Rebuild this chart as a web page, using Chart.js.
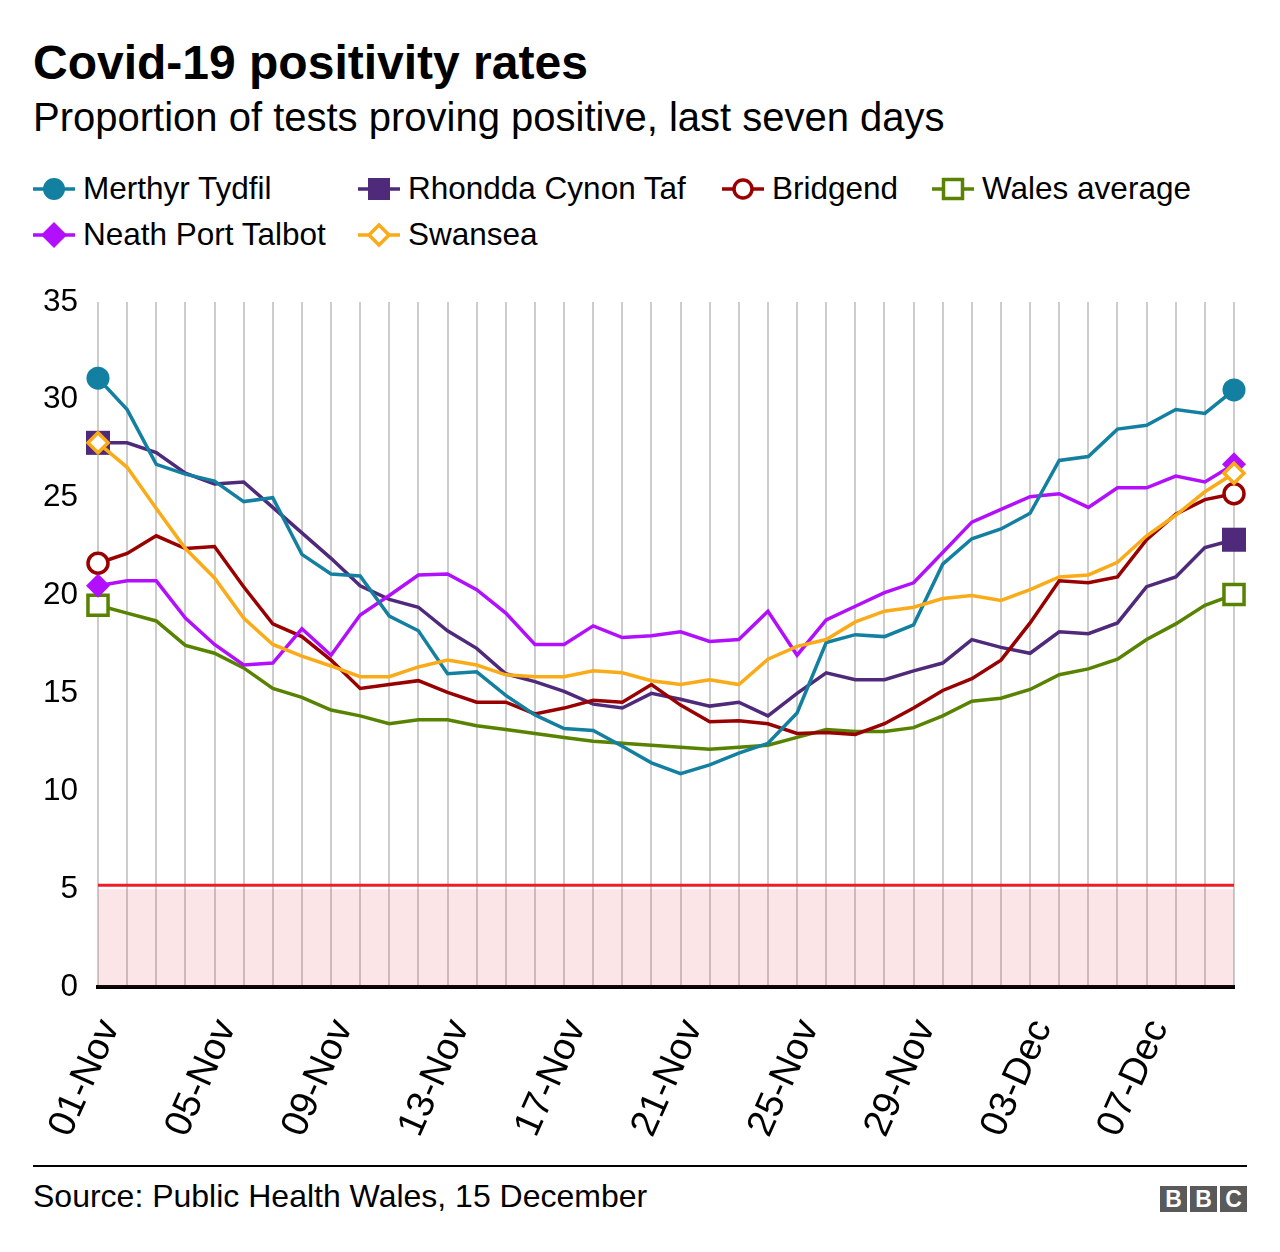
<!DOCTYPE html>
<html>
<head>
<meta charset="utf-8">
<script src="https://cdn.jsdelivr.net/npm/chart.js@4.4.1/dist/chart.umd.min.js"></script>
<style>
  html, body { margin:0; padding:0; background:#fff; }
  body { width:1280px; height:1252px; position:relative; overflow:hidden; font-family:"Liberation Sans", Arial, Helvetica, sans-serif; color:#000; }
  .abs { position:absolute; white-space:nowrap; line-height:1; }
  #title { left:33px; top:39px; font-size:48px; font-weight:bold; }
  #subtitle { left:33px; top:97px; font-size:40px; }
  .leg { position:absolute; display:flex; align-items:center; font-size:31.5px; line-height:1; white-space:nowrap; height:40px; }
  .leg svg { margin-right:8px; }
  #chartwrap { position:absolute; left:0; top:271px; width:1280px; height:889px; }
  #rule { position:absolute; left:33px; top:1165px; width:1214px; height:2px; background:#000; }
  #source { left:33px; top:1180px; font-size:32px; }
  #bbc { position:absolute; left:1160px; top:1186px; display:flex; gap:3px; }
  #bbc span { display:block; width:27px; height:26px; background:#5a5a5a; color:#fff; font-weight:bold; font-size:23px; line-height:26px; text-align:center; }
</style>
</head>
<body>
<div id="title" class="abs">Covid-19 positivity rates</div>
<div id="subtitle" class="abs">Proportion of tests proving positive, last seven days</div>
<div id="legend"></div>
<div id="chartwrap"><canvas id="c" width="1280" height="889"></canvas></div>
<div id="rule"></div>
<div id="source" class="abs">Source: Public Health Wales, 15 December</div>
<div id="bbc"><span>B</span><span>B</span><span>C</span></div>
<script>
const dates = ['01-Nov','02-Nov','03-Nov','04-Nov','05-Nov','06-Nov','07-Nov','08-Nov','09-Nov','10-Nov',
  '11-Nov','12-Nov','13-Nov','14-Nov','15-Nov','16-Nov','17-Nov','18-Nov','19-Nov','20-Nov',
  '21-Nov','22-Nov','23-Nov','24-Nov','25-Nov','26-Nov','27-Nov','28-Nov','29-Nov','30-Nov',
  '01-Dec','02-Dec','03-Dec','04-Dec','05-Dec','06-Dec','07-Dec','08-Dec','09-Dec','10-Dec'];

const merthyrTydfil = [31.1,29.5,26.7,26.2,25.85,24.8,25.0,22.1,21.1,21.0,
  18.95,18.2,16.0,16.1,14.9,13.9,13.2,13.1,12.3,11.45,
  10.9,11.35,11.95,12.45,14.0,17.6,18.0,17.9,18.5,21.6,
  22.9,23.4,24.2,26.9,27.1,28.5,28.7,29.5,29.3,30.5];

const rhonddaCynonTaf = [27.8,27.8,27.3,26.25,25.7,25.8,24.5,23.2,21.9,20.5,
  19.8,19.4,18.2,17.3,16.0,15.6,15.1,14.45,14.25,15.0,
  14.7,14.35,14.55,13.85,15.0,16.05,15.7,15.7,16.15,16.55,
  17.75,17.35,17.05,18.15,18.05,18.6,20.45,20.95,22.45,22.85];

const bridgend = [21.65,22.15,23.05,22.4,22.5,20.45,18.55,17.9,16.7,15.25,
  15.45,15.65,15.05,14.55,14.55,13.95,14.25,14.65,14.55,15.45,
  14.4,13.55,13.6,13.45,12.95,13.0,12.9,13.45,14.25,15.15,
  15.75,16.7,18.6,20.75,20.65,20.95,22.85,24.15,24.9,25.2];

const walesAverage = [19.5,19.1,18.7,17.45,17.05,16.3,15.25,14.8,14.15,13.85,
  13.45,13.65,13.65,13.35,13.15,12.95,12.75,12.55,12.45,12.35,
  12.25,12.15,12.25,12.35,12.75,13.15,13.05,13.05,13.25,13.85,
  14.6,14.75,15.2,15.95,16.25,16.75,17.75,18.55,19.5,20.05];

const neathPortTalbot = [20.5,20.75,20.75,18.85,17.5,16.45,16.55,18.3,16.95,19.0,
  20.0,21.05,21.1,20.3,19.1,17.5,17.5,18.45,17.85,17.95,
  18.15,17.65,17.75,19.2,16.95,18.75,19.45,20.15,20.65,22.2,
  23.75,24.4,25.05,25.2,24.5,25.5,25.5,26.1,25.8,26.7];

const swansea = [27.8,26.55,24.45,22.4,20.9,18.85,17.5,16.9,16.4,15.85,
  15.85,16.35,16.7,16.45,15.95,15.85,15.85,16.15,16.05,15.65,
  15.45,15.7,15.45,16.75,17.4,17.75,18.65,19.2,19.4,19.85,
  20.0,19.75,20.3,20.95,21.05,21.7,23.05,24.1,25.3,26.25];

const thresholdShade = dates.map(() => 5);
const thresholdLine = dates.map(() => 5.2);

const yTicks = [0,5,10,15,20,25,30,35];

const FONT = '"Liberation Sans", Arial, Helvetica, sans-serif';

const seriesDefs = [
  { label:'Merthyr Tydfil', data:merthyrTydfil, color:'#1380A1', style:'circle', r:11.5, filled:true, order:1 },
  { label:'Rhondda Cynon Taf', data:rhonddaCynonTaf, color:'#4F2A7A', style:'rect', r:17, filled:true, order:4 },
  { label:'Bridgend', data:bridgend, color:'#990000', style:'circle', r:10, filled:false, order:3 },
  { label:'Wales average', data:walesAverage, color:'#588300', style:'rect', r:14.2, filled:false, order:5 },
  { label:'Neath Port Talbot', data:neathPortTalbot, color:'#B30FFF', style:'rectRot', r:12, filled:true, order:2 },
  { label:'Swansea', data:swansea, color:'#FAAB18', style:'rectRot', r:10, filled:false, order:0 }
];

// HTML legend
const legendPos = [[33,169],[358,169],[722,169],[932,169],[33,215],[358,215]];
function markerSvg(d) {
  const c = d.color;
  let m;
  if (d.style === 'circle') m = d.filled ? `<circle cx="21" cy="15" r="11" fill="${c}"/>` : `<circle cx="21" cy="15" r="9" fill="#fff" stroke="${c}" stroke-width="3.5"/>`;
  else if (d.style === 'rect') m = d.filled ? `<rect x="10" y="4" width="22" height="22" fill="${c}"/>` : `<rect x="11.5" y="5.5" width="19" height="19" fill="#fff" stroke="${c}" stroke-width="3.5"/>`;
  else m = d.filled ? `<polygon points="21,2 34,15 21,28 8,15" fill="${c}"/>` : `<polygon points="21,5 31,15 21,25 11,15" fill="#fff" stroke="${c}" stroke-width="3.5"/>`;
  return `<svg width="42" height="30" viewBox="0 0 42 30"><line x1="0" y1="15" x2="42" y2="15" stroke="${c}" stroke-width="3.5"/>${m}</svg>`;
}
const legendEl = document.getElementById('legend');
seriesDefs.forEach((d, i) => {
  const div = document.createElement('div');
  div.className = 'leg';
  div.style.left = legendPos[i][0] + 'px';
  div.style.top = legendPos[i][1] + 'px';
  div.innerHTML = markerSvg(d) + '<span>' + d.label + '</span>';
  legendEl.appendChild(div);
});

const datasets = seriesDefs.map(d => ({
  label: d.label,
  data: d.data,
  borderColor: d.color,
  borderWidth: 3.5,
  pointStyle: d.style,
  pointRadius: ctx => (ctx.dataIndex === 0 || ctx.dataIndex === d.data.length - 1) ? d.r : 0,
  pointHoverRadius: 0,
  pointBackgroundColor: d.filled ? d.color : '#ffffff',
  pointBorderColor: d.color,
  pointBorderWidth: d.filled ? 0 : 3.5,
  tension: 0,
  fill: false,
  clip: false,
  order: d.order
}));
datasets.push({
  label: 'threshold line', data: thresholdLine, borderColor: '#EE1C25', borderWidth: 3,
  pointRadius: 0, pointHoverRadius: 0, fill: false, order: 10, clip: false
});
datasets.push({
  label: 'threshold area', data: thresholdShade, borderWidth: 0, borderColor: 'rgba(0,0,0,0)',
  backgroundColor: 'rgba(222,40,60,0.12)', pointRadius: 0, pointHoverRadius: 0, fill: 'origin', order: 11
});

new Chart(document.getElementById('c').getContext('2d'), {
  type: 'line',
  data: { labels: dates, datasets },
  options: {
    responsive: false,
    animation: false,
    events: [],
    layout: { padding: { top: 4, right: 46, left: 0, bottom: 0 } },
    plugins: { legend: { display: false }, tooltip: { enabled: false }, title: { display: false } },
    scales: {
      x: {
        grid: { color: '#cccccc', lineWidth: 2, drawTicks: false },
        border: { color: '#000000', width: 4 },
        ticks: {
          autoSkip: false, minRotation: 66, maxRotation: 66, padding: 26, labelOffset: 12,
          color: '#000', font: { size: 38, family: FONT },
          callback: (v, i) => (i % 4 === 0 ? dates[i] : '')
        },
        afterFit: s => { s.height = 173; s.paddingLeft = 0; s.paddingRight = 0; }
      },
      y: {
        min: yTicks[0], max: yTicks[yTicks.length - 1],
        afterBuildTicks: s => { s.ticks = yTicks.map(v => ({ value: v })); },
        grid: { display: false },
        border: { display: false },
        ticks: { color: '#000', padding: 12, font: { size: 31.5, family: FONT } },
        afterFit: s => { s.width = 98; }
      }
    }
  }
});
</script>
</body>
</html>
